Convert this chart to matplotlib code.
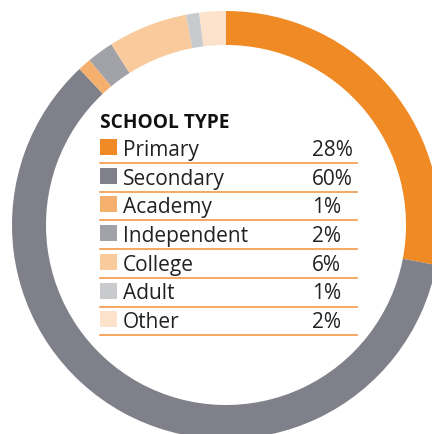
import matplotlib.pyplot as plt
from matplotlib.patches import Rectangle
from matplotlib.lines import Line2D

W, H = 432, 435

school_types = ["Primary", "Secondary", "Academy", "Independent", "College", "Adult", "Other"]
shares = [28, 60, 1, 2, 6, 1, 2]
colours = ["#f08a24", "#7f8089", "#f5b06e", "#a0a2a8", "#f9cb9c", "#c9cace", "#fde2cb"]
title = "SCHOOL TYPE"
rule_colour = "#f29a45"

plt.rcParams["font.family"] = ["Open Sans", "DejaVu Sans"]

fig = plt.figure(figsize=(W / 100, H / 100), dpi=100)

# donut: centre (226, 226) px from top-left, outer radius 214 px
cx, cy, r = 226, 226, 214
ax = fig.add_axes([(cx - r) / W, (H - cy - r) / H, 2 * r / W, 2 * r / H])
ax.pie(shares, colors=colours, startangle=90, counterclock=False, radius=1,
       wedgeprops=dict(width=34 / r, linewidth=0))
ax.set_xlim(-1, 1)
ax.set_ylim(-1, 1)
ax.set_aspect("equal")
ax.axis("off")


def fx(x):
    return x / W


def fy(y):
    return 1 - y / H


fig.text(fx(100), fy(128), title, fontsize=13.8, fontweight="bold",
         va="baseline", ha="left", color="#111111")

base0, step = 156, 28.7
for i, (name, val, col) in enumerate(zip(school_types, shares, colours)):
    yb = base0 + step * i
    fig.patches.append(Rectangle((fx(100), fy(yb)), 17 / W, 16 / H,
                                 transform=fig.transFigure, facecolor=col,
                                 edgecolor="none"))
    fig.text(fx(123), fy(yb), name, fontsize=15, va="baseline", ha="left",
             color="#222222")
    fig.text(fx(312), fy(yb), f"{val}%", fontsize=15, va="baseline", ha="left",
             color="#222222")
    yl = yb + 8
    fig.lines.append(Line2D([fx(100), fx(357)], [fy(yl), fy(yl)],
                            transform=fig.transFigure, color=rule_colour,
                            linewidth=1.2))

fig.savefig("out.png", dpi=100)
